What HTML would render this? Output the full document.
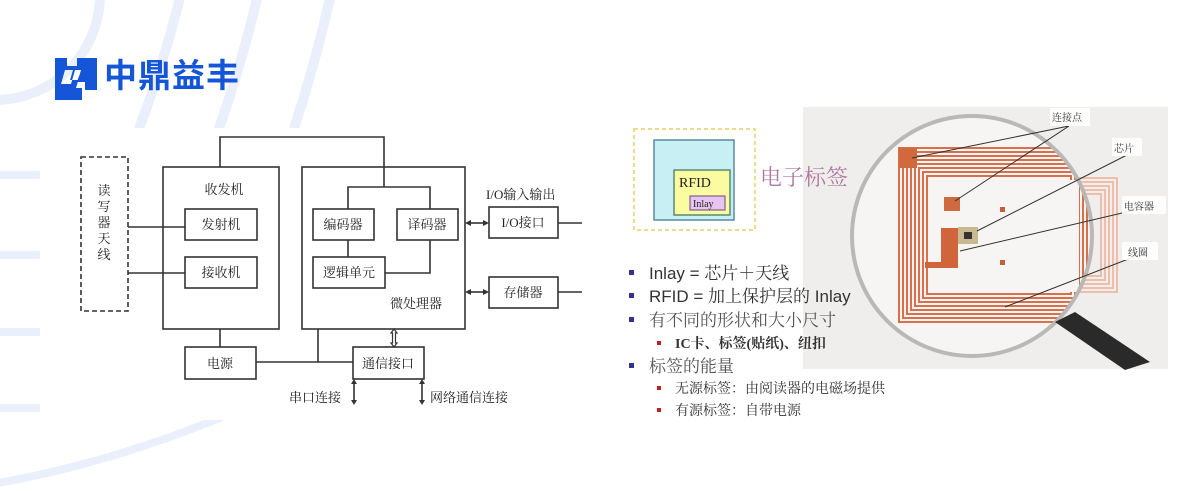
<!DOCTYPE html>
<html><head><meta charset="utf-8"><style>
html,body{margin:0;padding:0;background:#fff;overflow:hidden;width:1200px;height:500px;}
svg{display:block;}
text{font-family:"Liberation Serif","Noto Serif CJK SC",serif;}
.s{font-family:"Liberation Sans","Noto Sans CJK SC",sans-serif;}
</style></head><body>
<svg width="1200" height="500" viewBox="0 0 1200 500" xmlns="http://www.w3.org/2000/svg">
<defs>
<clipPath id="top"><rect x="0" y="0" width="610" height="128"/></clipPath>
<clipPath id="bot"><rect x="0" y="420" width="610" height="80"/></clipPath>
<clipPath id="cc"><circle cx="972" cy="236" r="120"/></clipPath>
</defs>
<!-- background arcs -->
<g fill="none" stroke="#eaf0fb" stroke-width="10" clip-path="url(#top)">
<circle cx="-5" cy="-5" r="105"/>
<circle cx="-1000" cy="-300" r="1217"/>
<circle cx="-1000" cy="-300" r="1292"/>
<circle cx="-1000" cy="-300" r="1363"/>
</g>
<g fill="none" stroke="#eaf0fb" stroke-width="8" clip-path="url(#bot)">
<circle cx="-200" cy="-600" r="1101"/>
</g>
<g stroke="#eaf0fb" stroke-width="8">
<line x1="0" y1="175" x2="40" y2="175"/><line x1="0" y1="255" x2="40" y2="255"/>
<line x1="0" y1="332" x2="40" y2="332"/><line x1="0" y1="408" x2="40" y2="408"/>
</g>
<!-- logo -->
<g fill="#1556d8">
<path d="M55 58h12v12h-2l-4 14h10l4-14h-8v-4h24l-4 12h-8l-3 10h6v12H55z M73 70l-3 10h8l3-10z"/>
<path d="M85 58h12v32H85v-8h-8l2-6h6v-10h-8v-8z"/>
</g>
<text x="104" y="87" class="s" font-size="33" font-weight="bold" fill="#1556d8" letter-spacing="1">中鼎益丰</text>

<!-- left block diagram -->
<g fill="none" stroke="#333" stroke-width="1.6">
<rect x="81" y="157" width="47" height="154" stroke-dasharray="5,3"/>
<rect x="163" y="167" width="116" height="162"/>
<rect x="302" y="167" width="163" height="162"/>
<polyline points="220,167 220,137 384,137 384,187"/>
<polyline points="348,209 348,187 430,187 430,209"/>
<rect x="185" y="209" width="72" height="31"/>
<rect x="185" y="257" width="72" height="31"/>
<line x1="128" y1="227" x2="185" y2="227"/>
<line x1="128" y1="273" x2="185" y2="273"/>
<rect x="313" y="209" width="61" height="31"/>
<rect x="397" y="209" width="61" height="31"/>
<rect x="313" y="257" width="72" height="31"/>
<line x1="348" y1="240" x2="348" y2="257"/>
<polyline points="430,240 430,273 385,273"/>
<rect x="489" y="207" width="69" height="31"/>
<rect x="489" y="277" width="69" height="31"/>
<line x1="558" y1="223" x2="582" y2="223"/>
<line x1="558" y1="292" x2="582" y2="292"/>
<line x1="470" y1="223" x2="484" y2="223"/>
<line x1="470" y1="292" x2="484" y2="292"/>
<rect x="185" y="347" width="71" height="32"/>
<line x1="220" y1="329" x2="220" y2="347"/>
<rect x="353" y="347" width="71" height="32"/>
<line x1="256" y1="362" x2="353" y2="362"/>
<line x1="318" y1="329" x2="318" y2="362"/>
<line x1="354" y1="383" x2="354" y2="400"/>
<line x1="422" y1="383" x2="422" y2="400"/>
<path d="M391 333 l3-4 3 4 h-1.5 v10 h1.5 l-3 4 -3-4 h1.5 v-10z" stroke-width="1.2"/>
</g>
<g fill="#333">
<path d="M465 223l6-3v6z M489 223l-6-3v6z M465 292l6-3v6z M489 292l-6-3v6z"/>
<path d="M354 379l-3 5h6z M354 405l-3-5h6z M422 379l-3 5h6z M422 405l-3-5h6z"/>
</g>
<g font-size="13" fill="#222" text-anchor="middle">
<text x="104" y="195">读</text><text x="104" y="211">写</text><text x="104" y="227">器</text><text x="104" y="243">天</text><text x="104" y="259">线</text>
<text x="224" y="194">收发机</text>
<text x="221" y="229">发射机</text>
<text x="221" y="277">接收机</text>
<text x="343" y="229">编码器</text>
<text x="427" y="229">译码器</text>
<text x="349" y="277">逻辑单元</text>
<text x="416" y="308">微处理器</text>
<text x="523" y="227">I/O接口</text>
<text x="523" y="297">存储器</text>
<text x="220" y="368">电源</text>
<text x="388" y="368">通信接口</text>
</g>
<g font-size="13" fill="#222">
<text x="486" y="199">I/O输入输出</text>
<text x="289" y="402">串口连接</text>
<text x="430" y="402">网络通信连接</text>
</g>

<!-- right: photo -->
<rect x="803" y="107" width="365" height="262" fill="#efeeec"/>
<g fill="none" stroke="#f0b8a0" stroke-width="1.8">
<rect x="1040" y="178" width="77" height="114"/>
<rect x="1044" y="182" width="69" height="106"/>
<rect x="1048" y="186" width="61" height="98"/>
<rect x="1052" y="190" width="53" height="90"/>
<rect x="1056" y="194" width="45" height="82"/>
</g>
<circle cx="972" cy="236" r="120" fill="#f6f5f3"/>
<g clip-path="url(#cc)" fill="none" stroke="#d9704a" stroke-width="2">
<rect x="899" y="148" width="200" height="174"/>
<rect x="903" y="152" width="192" height="166"/>
<rect x="907" y="156" width="184" height="158"/>
<rect x="911" y="160" width="176" height="150"/>
<rect x="915" y="164" width="168" height="142"/>
<rect x="919" y="168" width="160" height="134"/>
<rect x="923" y="172" width="152" height="126"/>
<rect x="927" y="176" width="144" height="118"/>
</g>
<g clip-path="url(#cc)">
<rect x="929" y="180" width="150" height="112" fill="#f6f5f3"/>
</g>
<rect x="899" y="148" width="18" height="20" fill="#d06a3c"/>
<rect x="944" y="197" width="16" height="14" fill="#cf6a40"/>
<rect x="941" y="228" width="17" height="37" fill="#d0643a"/>
<rect x="925" y="262" width="33" height="6" fill="#d0643a"/>
<rect x="958" y="227" width="20" height="17" fill="#c9b890"/>
<rect x="964" y="232" width="8" height="7" fill="#333"/>
<rect x="1000" y="207" width="5" height="5" fill="#c06040"/>
<rect x="1000" y="260" width="5" height="5" fill="#c06040"/>
<circle cx="972" cy="236" r="120" fill="none" stroke="#b8b8b6" stroke-width="4"/>
<path d="M1055 322 L1075 312 L1150 362 L1125 370 Z" fill="#2a2a2a"/>
<g stroke="#333" stroke-width="1" fill="none">
<line x1="1069" y1="126" x2="912" y2="158"/><line x1="1069" y1="126" x2="955" y2="201"/>
<line x1="1127" y1="155" x2="977" y2="231"/>
<line x1="1135" y1="210" x2="960" y2="251"/>
<line x1="1136" y1="256" x2="1005" y2="307"/>
</g>
<g fill="#fff" opacity="0.9">
<rect x="1050" y="108" width="40" height="18"/><rect x="1112" y="138" width="30" height="18"/><rect x="1122" y="196" width="44" height="18"/><rect x="1122" y="242" width="36" height="18"/>
</g>
<g font-size="10" fill="#333">
<text x="1052" y="121">连接点</text>
<text x="1114" y="152">芯片</text>
<text x="1124" y="210">电容器</text>
<text x="1128" y="256">线圈</text>
</g>

<!-- RFID diagram -->
<rect x="634" y="129" width="121" height="101" fill="none" stroke="#e8d060" stroke-width="1.5" stroke-dasharray="4,3"/>
<rect x="654" y="140" width="80" height="80" fill="#c8f0f4" stroke="#5a8aa0" stroke-width="1.5"/>
<rect x="674" y="170" width="56" height="45" fill="#fbfba0" stroke="#5a8a70" stroke-width="1.5"/>
<rect x="690" y="196" width="35" height="14" fill="#e8c4f0" stroke="#806090" stroke-width="1.2"/>
<text x="679" y="187" font-size="14" fill="#222">RFID</text>
<text x="693" y="207" font-size="10" fill="#222">Inlay</text>
<text x="760" y="185" font-size="22" fill="#b07aa0">电子标签</text>

<!-- bullets -->
<g fill="#33338a"><rect x="629" y="270" width="5" height="5"/><rect x="629" y="293" width="5" height="5"/><rect x="629" y="317" width="5" height="5"/><rect x="629" y="363" width="5" height="5"/></g>
<g fill="#c02020"><rect x="657" y="341" width="4" height="4"/><rect x="657" y="386" width="4" height="4"/><rect x="657" y="408" width="4" height="4"/></g>
<g fill="#333">
<text x="649" y="279" font-size="17"><tspan class="s">Inlay = </tspan>芯片＋天线</text>
<text x="649" y="302" font-size="17"><tspan class="s">RFID = </tspan>加上保护层的<tspan class="s"> Inlay</tspan></text>
<text x="649" y="326" font-size="17" fill="#555">有不同的形状和大小尺寸</text>
<text x="675" y="348" font-size="14" font-weight="bold">IC卡、标签(贴纸)、纽扣</text>
<text x="649" y="372" font-size="17" fill="#555">标签的能量</text>
<text x="675" y="393" font-size="14">无源标签：由阅读器的电磁场提供</text>
<text x="675" y="415" font-size="14">有源标签：自带电源</text>
</g>
</svg>
</body></html>
